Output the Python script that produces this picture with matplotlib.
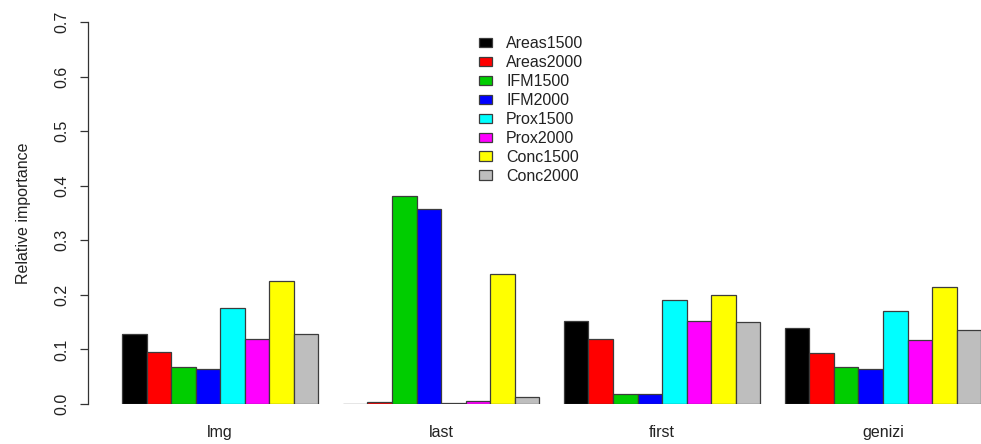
import numpy as np
import matplotlib
matplotlib.use("Agg")
import matplotlib.pyplot as plt

plt.rcParams['font.family'] = ['Liberation Sans', 'DejaVu Sans']

# relative importance per metric, one list per predictor
methods = ["lmg", "last", "first", "genizi"]
series = ["Areas1500", "Areas2000", "IFM1500", "IFM2000",
          "Prox1500", "Prox2000", "Conc1500", "Conc2000"]
areas1500 = [0.128, 0.000, 0.153, 0.139]
areas2000 = [0.095, 0.004, 0.120, 0.093]
ifm1500 = [0.067, 0.382, 0.018, 0.067]
ifm2000 = [0.064, 0.358, 0.018, 0.064]
prox1500 = [0.176, 0.001, 0.191, 0.171]
prox2000 = [0.120, 0.006, 0.153, 0.118]
conc1500 = [0.225, 0.239, 0.200, 0.214]
conc2000 = [0.129, 0.013, 0.151, 0.136]
yticks = [0.0, 0.1, 0.2, 0.3, 0.4, 0.5, 0.6, 0.7]

values = [areas1500, areas2000, ifm1500, ifm2000,
          prox1500, prox2000, conc1500, conc2000]
colors = ["black", "red", "#00CD00", "blue", "cyan", "magenta", "yellow", "#BEBEBE"]

FS = 11.5
W, H = 981, 444
fig = plt.figure(figsize=(W / 100, H / 100), dpi=100)
# plot region in pixels (R-style, right side cropped off the image)
left, right = 87.6, 87.6 + 37.8 * 24.55
top, bottom = 22, 404
ax = fig.add_axes([left / W, 1 - bottom / H, (right - left) / W, (bottom - top) / H])

nser = len(series)
handles = []
for j, (name, vals, col) in enumerate(zip(series, values, colors)):
    # R barplot(beside=TRUE): group g starts at 1 + g*(nser+1)
    x = [1 + g * (nser + 1) + j + 0.5 for g in range(len(methods))]
    b = ax.bar(x, vals, width=1.0, color=col, edgecolor="#3c3c3c",
               linewidth=0.9, label=name)
    handles.append(b)

ax.set_xlim(-0.4, 37.4)
ax.set_ylim(0, 0.7)

centers = [1 + g * (nser + 1) + nser / 2 for g in range(len(methods))]
ax.set_xticks(centers)
ax.set_xticklabels(methods, fontsize=FS, color="#222222")
ax.tick_params(axis="x", length=0, pad=15)

ax.set_yticks(yticks)
ax.set_yticklabels([f"{v:.1f}" for v in yticks], rotation=90, va="center",
                   fontsize=FS, color="#222222")
ax.tick_params(axis="y", length=6, width=0.9, color="#333333", pad=7)

for s in ["top", "right", "bottom"]:
    ax.spines[s].set_visible(False)
ax.spines["left"].set_bounds(0, 0.7)
ax.spines["left"].set_color("#333333")
ax.spines["left"].set_linewidth(0.9)

ax.set_ylabel("Relative importance", fontsize=FS, color="#222222", labelpad=17)

leg = fig.legend(handles=handles, labels=series, loc="upper left",
                 bbox_to_anchor=(479 / W, 1 - 36 / H), frameon=False,
                 fontsize=FS, handlelength=0.8, handleheight=0.55,
                 handletextpad=0.9, labelspacing=0.25, borderpad=0,
                 borderaxespad=0)
for t in leg.get_texts():
    t.set_color("#222222")

fig.savefig("out.png", dpi=100)
